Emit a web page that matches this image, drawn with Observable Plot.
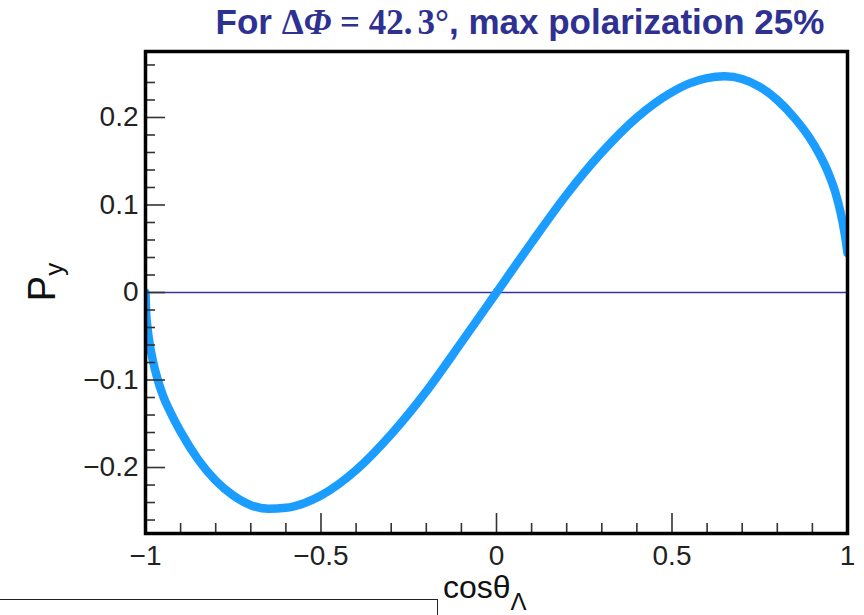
<!DOCTYPE html>
<html>
<head>
<meta charset="utf-8">
<script src="https://cdn.jsdelivr.net/npm/d3@7"></script>
<script src="https://cdn.jsdelivr.net/npm/@observablehq/plot@0.6"></script>
<style>
  html, body { margin: 0; padding: 0; background: #fff; }
  #wrap { position: relative; width: 864px; height: 615px; overflow: hidden; font-family: "Liberation Sans", Arial, sans-serif; }
  #title { position: absolute; left: 0; width: 864px; top: 2px; text-align: center; padding-left: 176px; box-sizing: border-box;
           font-family: "Liberation Sans Narrow", "Arial Narrow", "Liberation Sans", sans-serif; font-weight: bold; font-size: 35px; color: #2e3192; white-space: nowrap; }
  #title .m { font-family: "Liberation Serif", "DejaVu Serif", serif; font-weight: bold; }
  #title .i { font-style: italic; }
  #ylab { position: absolute; left: 26px; top: 282px; transform: translate(0, -50%) rotate(-90deg); transform-origin: center; font-size: 38px; color: #111; white-space: nowrap; }
  #ylab sub { font-size: 26px; vertical-align: -8px; }
  #xlab { position: absolute; left: 443px; top: 569px; font-size: 32px; color: #111; white-space: nowrap; }
  #xlab sub { font-size: 24px; vertical-align: -12px; }
  #box { position: absolute; left: -2px; top: 599px; width: 438px; height: 30px; border: 1.5px solid #222; background: #fff; }
  #chart { position: absolute; left: 0; top: 0; }
</style>
</head>
<body>
<div id="wrap">
  <div id="chart"></div>
  <div id="title">For <span class="m">Δ<span class="i">Φ</span> = 42.<span style="margin-left:5px">3</span>°</span>, max polarization 25%</div>
  <div id="ylab">P<sub>y</sub></div>
  <div id="xlab">cosθ<sub>Λ</sub></div>
  <div id="box"></div>
</div>
<script>
// Curve samples: cosθΛ and Py
const cosTheta = [-1, -0.998, -0.995, -0.99, -0.98, -0.965, -0.95, -0.925, -0.9, -0.85, -0.8, -0.75, -0.7, -0.65, -0.6, -0.55, -0.5, -0.4, -0.3, -0.2, -0.1, 0, 0.1, 0.2, 0.3, 0.4, 0.5, 0.55, 0.6, 0.65, 0.7, 0.75, 0.8, 0.85, 0.89, 0.92, 0.945, 0.965, 0.98, 0.99, 0.996, 1.0];
const py       = [0, -0.024, -0.038, -0.054, -0.076, -0.1, -0.118, -0.14, -0.159, -0.191, -0.215, -0.232, -0.243, -0.247, -0.246, -0.241, -0.232, -0.203, -0.162, -0.113, -0.057, 0, 0.057, 0.112, 0.16, 0.2, 0.229, 0.239, 0.245, 0.247, 0.244, 0.235, 0.22, 0.199, 0.178, 0.158, 0.137, 0.115, 0.092, 0.072, 0.057, 0.045];

const xMajor = [-1, -0.5, 0, 0.5, 1];
const xMinor = [-0.9, -0.8, -0.7, -0.6, -0.4, -0.3, -0.2, -0.1, 0.1, 0.2, 0.3, 0.4, 0.6, 0.7, 0.8, 0.9];
const yMajor = [-0.2, -0.1, 0, 0.1, 0.2];
const yMinor = [-0.26, -0.24, -0.22, -0.18, -0.16, -0.14, -0.12, -0.08, -0.06, -0.04, -0.02, 0.02, 0.04, 0.06, 0.08, 0.12, 0.14, 0.16, 0.18, 0.22, 0.24, 0.26];
const zeroLine = [0];

const data = cosTheta.map((c, i) => ({c, p: py[i]}));
const blank = () => "";
const fmt = d => d3.format("")(d).replace("-", "−");

const chart = Plot.plot({
  width: 864,
  height: 615,
  marginLeft: 145,
  marginRight: 17,
  marginTop: 51,
  marginBottom: 82,
  style: {fontFamily: "'Liberation Sans', Arial, sans-serif", fontSize: "28px", color: "#222", background: "transparent", overflow: "visible"},
  x: {domain: [-1, 1]},
  y: {domain: [-0.2754, 0.2754]},
  marks: [
    Plot.ruleY(zeroLine, {stroke: "#3434a8", strokeWidth: 1.6}),
    Plot.line(data, {x: "c", y: "p", stroke: "#1b9cff", strokeWidth: 8.5, curve: "monotone-x", clip: true}),
    Plot.axisX(xMajor, {tickSize: 0, tickPadding: 12, tickFormat: fmt, label: null, fontSize: 28}),
    Plot.axisY(yMajor, {tickSize: 0, tickPadding: 7, tickFormat: fmt, label: null, fontSize: 28}),
    Plot.axisX(xMajor, {tickSize: -20, tickFormat: blank, label: null, stroke: "#333", strokeWidth: 1.6}),
    Plot.axisX(xMinor, {tickSize: -10, tickFormat: blank, label: null, stroke: "#333", strokeWidth: 1.6}),
    Plot.axisY(yMajor, {tickSize: -20, tickFormat: blank, label: null, stroke: "#333", strokeWidth: 1.6}),
    Plot.axisY(yMinor, {tickSize: -10, tickFormat: blank, label: null, stroke: "#333", strokeWidth: 1.6}),
    Plot.frame({stroke: "#000", strokeWidth: 3.5})
  ]
});
document.getElementById("chart").appendChild(chart);
</script>
</body>
</html>
